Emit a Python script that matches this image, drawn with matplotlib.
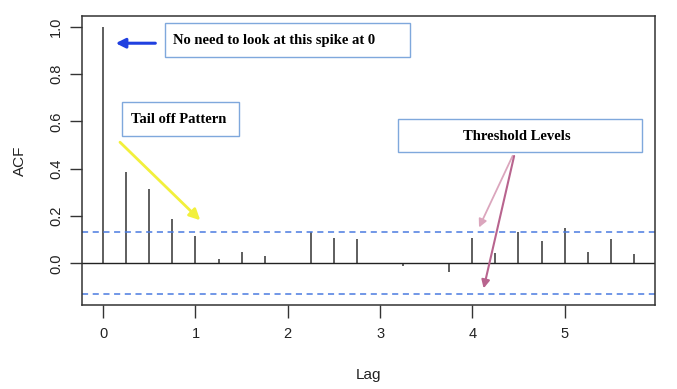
import numpy as np
import matplotlib.pyplot as plt
from matplotlib.patches import Rectangle

plt.rcParams['font.family'] = ['Liberation Sans', 'DejaVu Sans']

# ACF values
lags = np.arange(24) * 0.25
acf = [1.0, 0.387, 0.316, 0.186, 0.117, 0.018, 0.046, 0.031,
       0.003, 0.134, 0.105, 0.101, -0.003, -0.010, -0.003, -0.037,
       0.108, 0.045, 0.134, 0.094, 0.151, 0.049, 0.101, 0.039]
conf = 0.131
x_ticks = [0, 1, 2, 3, 4, 5]
y_ticks = [0.0, 0.2, 0.4, 0.6, 0.8, 1.0]

fig = plt.figure(figsize=(6.77, 3.89), dpi=100)
ax = fig.add_axes([82/677, 1 - 305/389, 573/677, 289/389])

ax.vlines(lags, 0, acf, color='#333333', lw=1.1)
ax.axhline(0, color='#222222', lw=1.0)
ax.axhline(conf, color='#4a7be0', lw=1.1, ls=(0, (4, 3)))
ax.axhline(-conf, color='#4a7be0', lw=1.1, ls=(0, (4, 3)))

ax.set_xlim(-0.23, 5.98)
ax.set_ylim(-conf - 0.045, 1.045)
ax.set_xticks(x_ticks)
ax.set_yticks(y_ticks)
ax.set_yticklabels(['%.1f' % v for v in y_ticks], rotation=90, va='center')
ax.tick_params(length=9, width=1, color='#333333', labelsize=10.5, labelcolor='#222222')
ax.tick_params(axis='x', pad=6.5)
ax.tick_params(axis='y', pad=4.7)
for s in ax.spines.values():
    s.set_color('#333333')
    s.set_linewidth(1.1)
ax.set_xlabel('Lag', fontsize=11, color='#222222', labelpad=19.5)
ax.set_ylabel('ACF', fontsize=11, color='#222222', labelpad=16)

# annotation boxes
box_kw = dict(fill=True, facecolor='white', edgecolor='#7fa8dc', lw=1.0, clip_on=False, zorder=5)
txt_kw = dict(family=['Liberation Serif', 'DejaVu Serif'], weight='bold', fontsize=10.5,
              color='black', va='center', zorder=6)

ax.add_patch(Rectangle((0.67, 0.870), 2.65, 0.144, **box_kw))
ax.text(0.76, 0.942, 'No need to look at this spike at 0', ha='left', **txt_kw)
ax.annotate('', xy=(0.105, 0.93), xytext=(0.595, 0.93),
            arrowprops=dict(arrowstyle='-|>', color='#2040e0', lw=2.2, mutation_scale=14))

ax.add_patch(Rectangle((0.203, 0.537), 1.272, 0.143, **box_kw))
ax.text(0.30, 0.608, 'Tail off Pattern', ha='left', **txt_kw)
ax.annotate('', xy=(1.073, 0.174), xytext=(0.16, 0.520),
            arrowprops=dict(arrowstyle='-|>', color='#f2f03c', lw=2.0, mutation_scale=16))

ax.add_patch(Rectangle((3.19, 0.470), 2.654, 0.138, **box_kw))
ax.text(4.486, 0.537, 'Threshold Levels', ha='center', **txt_kw)
ax.annotate('', xy=(4.06, 0.141), xytext=(4.45, 0.465),
            arrowprops=dict(arrowstyle='-|>', color='#dba6bd', lw=1.3, mutation_scale=12))
ax.annotate('', xy=(4.116, -0.117), xytext=(4.46, 0.465),
            arrowprops=dict(arrowstyle='-|>', color='#b8648e', lw=1.5, mutation_scale=12))

fig.savefig('out.png', dpi=100)
